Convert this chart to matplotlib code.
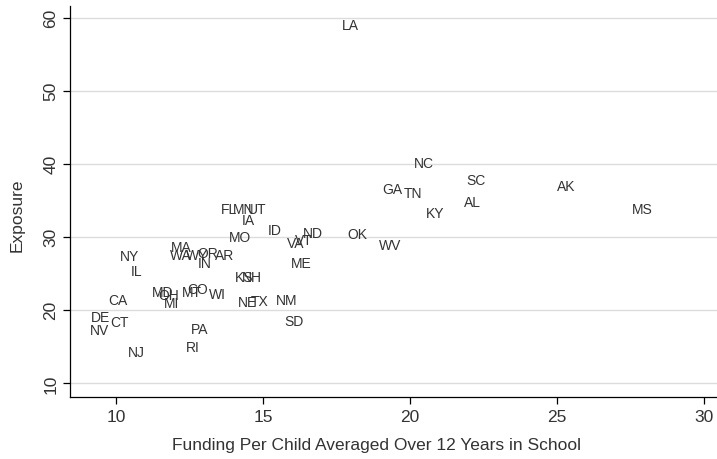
"""Scatter of state labels: exposure vs. funding per child (Stata-style)."""

import matplotlib.pyplot as plt

# State labels and their positions.
STATES = [
    "LA", "NC", "SC", "AK", "GA", "TN", "AL", "KY", "MS", "WV",
    "OK", "ND", "VA", "VT", "ME", "ID", "NM", "SD", "TX", "NE",
    "KS", "NH", "FL", "MN", "UT", "IA", "MO", "MA", "WA", "WY",
    "OR", "AR", "IN", "NY", "IL", "CA", "DE", "CT", "NV", "NJ",
    "PA", "RI", "MD", "OH", "MI", "MT", "CO", "WI",
]
FUNDING = [
    17.99, 20.48, 22.24, 25.31, 19.39, 20.10, 22.11, 20.85, 27.89, 19.32,
    18.20, 16.70, 16.12, 16.39, 16.29, 15.41, 15.82, 16.05, 14.90, 14.46,
    14.35, 14.63, 13.84, 14.35, 14.80, 14.52, 14.22, 12.24, 12.21, 12.76,
    13.13, 13.71, 13.03, 10.48, 10.71, 10.07, 9.49, 10.14, 9.46, 10.71,
    12.86, 12.62, 11.60, 11.80, 11.90, 12.59, 12.79, 13.47,
]
EXPOSURE = [
    59.04, 40.14, 37.81, 36.99, 36.58, 36.03, 34.79, 33.29, 33.84, 28.90,
    30.41, 30.55, 29.18, 29.59, 26.44, 30.96, 21.37, 18.49, 21.23, 21.10,
    24.52, 24.52, 33.84, 33.84, 33.84, 32.33, 30.00, 28.63, 27.53, 27.53,
    27.81, 27.53, 26.44, 27.40, 25.34, 21.37, 19.04, 18.36, 17.26, 14.25,
    17.40, 14.93, 22.47, 22.05, 20.96, 22.47, 22.88, 22.19,
]

X_TICKS = [10, 15, 20, 25, 30]
Y_TICKS = [10, 20, 30, 40, 50, 60]

TEXT_COLOR = "#333333"
GRID_COLOR = "#dcdcdc"

plt.rcParams["font.family"] = ["Liberation Sans", "DejaVu Sans"]


def main():
    fig = plt.figure(figsize=(7.17, 4.6), dpi=100, facecolor="white")
    ax = fig.add_axes([0.0976, 0.135, 0.9024, 0.85])

    for name, x, y in zip(STATES, FUNDING, EXPOSURE):
        ax.text(x, y, name, ha="center", va="center", fontsize=10,
                color=TEXT_COLOR)

    ax.set_xlim(8.44, 30.44)
    ax.set_ylim(8.08, 61.6)
    ax.set_xticks(X_TICKS)
    ax.set_yticks(Y_TICKS)
    ax.yaxis.grid(True, color=GRID_COLOR, linewidth=1.0)
    ax.set_axisbelow(True)

    for side in ("top", "right"):
        ax.spines[side].set_visible(False)
    for side in ("left", "bottom"):
        ax.spines[side].set_color("black")
        ax.spines[side].set_linewidth(0.9)

    ax.tick_params(axis="both", direction="out", length=5, width=0.9,
                   colors="black", labelcolor=TEXT_COLOR, labelsize=12.5)
    for label in ax.get_yticklabels():
        label.set_rotation(90)
        label.set_va("center")

    ax.set_xlabel("Funding Per Child Averaged Over 12 Years in School",
                  fontsize=12.5, color=TEXT_COLOR, va="center")
    ax.set_ylabel("Exposure", fontsize=12.5, color=TEXT_COLOR, va="center")
    # Titles sit a little off the axes centre in the reference.
    ax.xaxis.set_label_coords(0.4745, -0.123)
    ax.yaxis.set_label_coords(-0.082, 0.468)

    fig.savefig("out.png", dpi=100, facecolor="white")
    plt.close(fig)


if __name__ == "__main__":
    main()
